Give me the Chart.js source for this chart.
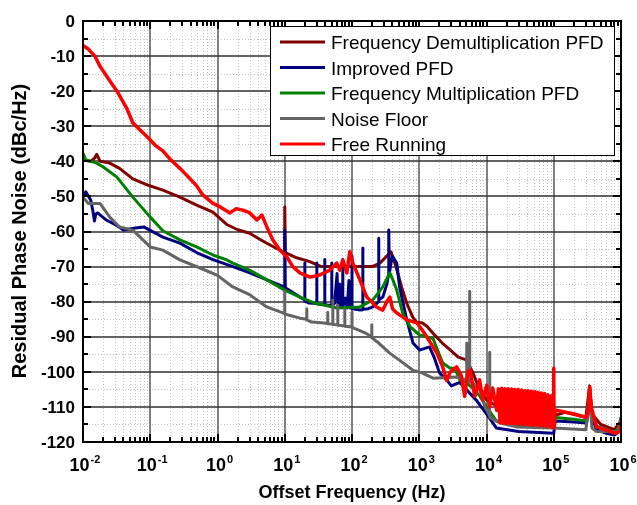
<!DOCTYPE html>
<html>
<head>
<meta charset="utf-8">
<script src="https://cdn.jsdelivr.net/npm/chart.js@4.4.0/dist/chart.umd.min.js"></script>
<style>
  html, body { margin: 0; padding: 0; background: #fff; }
  #wrap { width: 637px; height: 505px; }
</style>
</head>
<body>
<div id="wrap"><canvas id="pnChart"></canvas></div>
<script>
// series names (legend order)
const seriesNames = ["Frequency Demultiplication PFD", "Improved PFD", "Frequency Multiplication PFD", "Noise Floor", "Free Running"];
const seriesColors = ["#800000", "#00007f", "#008000", "#646464", "#ff0000"];

// axis ticks
const xTickExps = [-2, -1, 0, 1, 2, 3, 4, 5, 6];
const yTicks = [0, -10, -20, -30, -40, -50, -60, -70, -80, -90, -100, -110, -120];

// Frequency Demultiplication PFD
const demulFreq = [0.01, 0.013, 0.015, 0.016, 0.018, 0.025, 0.035, 0.055, 0.09, 0.154, 0.276, 0.49, 0.855, 1.37, 2, 3, 5, 7, 9.8, 10, 10.2, 15, 23, 35, 60, 100, 150, 200, 260, 330, 380, 450, 550, 650, 800, 920, 1100, 1300, 1600, 2200, 2900, 3800, 5000, 6200, 7500, 8500, 10000, 15000, 30000, 60000, 100000, 150000, 300000, 342000, 370000, 500000, 800000, 1000000];
const demulDb = [-39.6, -40, -39, -38, -40, -40.5, -42, -45, -46.7, -48.2, -50.2, -52.5, -54.5, -58, -59.5, -60.5, -63, -64.5, -66, -53, -66, -67.5, -68.5, -70, -70, -70, -70, -70, -69, -67, -65.8, -70, -76, -80.4, -84.4, -86, -86, -87, -89, -91.8, -93.8, -95.8, -96.6, -100, -104, -106, -108, -110, -111, -112, -112.5, -111.5, -113, -104, -112, -115, -116.5, -114];

// Improved PFD
const improvedFreq = [0.01, 0.011, 0.013, 0.014, 0.0148, 0.0155, 0.0165, 0.022, 0.03, 0.04, 0.06, 0.08, 0.154, 0.276, 0.49, 0.855, 1.69, 3.03, 5.42, 9.8, 10, 10.2, 16.8, 19.9, 19.9, 19.9, 23, 30, 30, 30, 35, 39.4, 39.4, 39.4, 45, 50.1, 50.1, 50.1, 55, 60, 62, 66, 68, 73, 73, 73, 80, 85, 90, 95, 100, 100, 100, 115, 131, 145, 145, 145, 175, 204, 250, 250, 250, 287, 330, 352, 352, 360, 380, 404, 463, 510, 652, 808, 1010, 1420, 1660, 2000, 2560, 3000, 4000, 5000, 7000, 10000, 14000, 30000, 60000, 100000, 105000, 200000, 308000, 342000, 370000, 434000, 610000, 800000, 1000000];
const improvedDb = [-50, -48.7, -51, -54, -57, -55, -54.7, -56.7, -58, -59.6, -59, -58.7, -61.6, -63.3, -66, -68, -70, -71.8, -73.8, -75.8, -59.6, -76, -78.7, -79.5, -69, -79.8, -80.4, -80.5, -69, -80.6, -80.8, -80.8, -68, -80.9, -81, -81, -69, -81.2, -80.5, -72, -81.5, -75, -81.5, -81.6, -68, -81.6, -79, -81.8, -74, -81.8, -81.8, -67, -82, -82.2, -82.4, -82.3, -64.7, -82.2, -82, -81.5, -80, -61.9, -79.5, -78.7, -75, -72, -59.6, -71.8, -69, -67.2, -69, -75.8, -85.2, -91.8, -93.8, -92.9, -95.8, -100.3, -102.3, -104, -103, -105, -108, -112, -116, -117, -117.3, -117.5, -114, -114.3, -114.6, -106, -113, -116.5, -117.5, -118, -116.5];

// Frequency Multiplication PFD
const multFreq = [0.01, 0.011, 0.016, 0.02, 0.032, 0.055, 0.1, 0.154, 0.276, 0.49, 0.855, 1.37, 1.69, 3, 5.42, 10, 16.8, 28, 60, 131, 166, 204, 287, 365, 400, 463, 566, 735, 1010, 1600, 2234, 2850, 3400, 4000, 5000, 6500, 8000, 10000, 14000, 30000, 60000, 100000, 105000, 200000, 308000, 342000, 370000, 434000, 610000, 800000, 1000000];
const multDb = [-37.7, -39.6, -40.5, -41.6, -44.5, -50.2, -55.9, -59.8, -62.4, -64.4, -66.7, -68.1, -69, -71, -73.8, -76.7, -78.7, -80.4, -81.8, -81.5, -80.4, -79.5, -75.8, -71.8, -73.5, -76.7, -83.2, -87.2, -89.5, -90.5, -97.5, -98.9, -99, -102.3, -103, -105, -107, -110, -114, -115.3, -115.5, -115.8, -113, -113.5, -114, -104.5, -112, -115.5, -116.5, -117.3, -115];

// Noise Floor
const floorFreq = [0.01, 0.012, 0.0179, 0.025, 0.035, 0.055, 0.1, 0.154, 0.276, 0.55, 1, 1.69, 3, 5.4, 9.4, 10, 10, 10, 16.8, 21.3, 21.3, 21.3, 25, 35, 43.6, 43.6, 43.6, 51.9, 51.9, 51.9, 61.5, 61.5, 61.5, 78.2, 78.2, 78.2, 100, 100, 100, 160, 197, 197, 197, 250, 360, 500, 800, 1100, 1600, 3607, 5080, 5080, 5080, 5625, 5625, 5625, 6240, 7925, 9500, 11160, 11160, 11160, 16000, 28000, 100000, 300000, 342000, 370000, 434000, 900000, 1000000];
const floorDb = [-50.2, -52, -52, -55.9, -58.7, -59.6, -64.4, -65.3, -68.1, -70.4, -72.5, -75.8, -78, -81.5, -83.2, -83.3, -77, -83.5, -84.7, -85, -82, -85.2, -85.8, -86, -86.2, -83, -86.3, -86.4, -79.5, -86.5, -86.6, -81, -86.7, -86.9, -82, -87, -87.2, -83, -87.3, -89, -90, -86.6, -90.3, -91.8, -94.6, -96.6, -99.5, -100.3, -101.8, -101.5, -102.3, -91.8, -102.4, -102.6, -77, -102.8, -103.2, -105.2, -110, -112.5, -94.4, -113, -114.6, -115.7, -116, -116.5, -108, -116, -117, -117, -113];

// Free Running
const freeFreq = [0.01, 0.012, 0.015, 0.018, 0.025, 0.032, 0.045, 0.055, 0.07, 0.09, 0.12, 0.154, 0.2, 0.276, 0.35, 0.49, 0.6, 0.855, 1.1, 1.53, 1.9, 2.38, 3.03, 3.85, 4.57, 5.42, 6.66, 8.45, 10.7, 13.2, 16.8, 23.6, 33.2, 46.8, 59.4, 65.9, 73, 83.7, 92.7, 103, 131, 166, 184, 230, 287, 330, 365, 400, 463, 652, 919, 1100, 1291, 1820, 2234, 2560, 2900, 3600, 4200, 4740, 5300, 5700, 6700, 7900, 8800, 10070, 11160, 12370, 14190,
  15000, 15900, 16800, 17800, 18800, 19900, 21000, 22300, 23600, 25000, 26400, 28000, 29600, 31300, 33100, 35000, 37000, 39200, 41500, 43900, 46400, 49100, 52000, 55000, 58200, 61500, 65100, 68900, 72900, 77100, 81600, 86300, 91300, 96600, 99000, 100000, 101000, 105000, 150000, 200000, 250000, 308000, 330000, 342000, 360000, 434000, 610000, 800000, 950000, 1000000];
const freeDb = [-7, -8, -10, -13, -17, -20, -25, -29, -31, -33, -35.5, -37, -39.5, -42, -44, -47, -49.5, -52, -53, -54.7, -53.5, -53.9, -54.7, -56.7, -55.3, -58.7, -62.4, -65.3, -67.2, -70, -71.8, -73, -72.4, -71, -69, -71, -68.1, -71.8, -65.8, -69, -73.8, -78.7, -79.5, -81.5, -82.4, -80, -78.7, -82, -83.2, -85.2, -86, -88, -90, -94.6, -98.6, -102.5, -100, -98.6, -101, -107, -100, -99.5, -107, -102.3, -108, -103.8, -110, -104.6, -111,
  -104.8, -114.5, -104.7, -114.6, -104.8, -114.7, -104.8, -114.7, -104.9, -114.8, -105, -114.8, -105, -114.9, -105.2, -115, -105.3, -115, -105.4, -115.1, -105.5, -115.2, -105.6, -115.2, -105.8, -115.3, -106, -115.4, -106.2, -115.5, -106.5, -115.6, -106.8, -115.7, -107.2, -99, -116, -110.9, -111.5, -112, -112.5, -112.9, -110, -104.3, -110, -115.7, -116.6, -117.5, -117, -114.6];

const seriesFreq = [demulFreq, improvedFreq, multFreq, floorFreq, freeFreq];
const seriesDb = [demulDb, improvedDb, multDb, floorDb, freeDb];
// drawing order: red on top
const seriesOrder = [4, 3, 2, 1, 0];

function toPoints(fs, vs) {
  return fs.map((f, i) => ({ x: f, y: vs[i] }));
}

const datasets = seriesNames.map((name, i) => ({
  label: name,
  data: toPoints(seriesFreq[i], seriesDb[i]),
  borderColor: seriesColors[i],
  borderWidth: i === 4 ? 3.5 : 3,
  borderJoinStyle: "round",
  borderCapStyle: "round",
  pointRadius: 0,
  tension: 0,
  fill: false,
  order: seriesOrder[i],
}));

const FONT = "'Liberation Sans', Arial, sans-serif";

// grid, frame, ticks, labels and legend
const frameLayer = {
  id: "frameLayer",
  beforeDatasetsDraw(chart) {
    const { ctx, chartArea: a, scales: { x, y } } = chart;
    ctx.save();
    // minor dotted grid
    ctx.strokeStyle = "#c4c4c4";
    ctx.lineWidth = 1;
    ctx.setLineDash([1, 2]);
    for (let e = -2; e < 6; e++) {
      for (let m = 2; m <= 9; m++) {
        const px = Math.round(x.getPixelForValue(m * Math.pow(10, e))) + 0.5;
        ctx.beginPath(); ctx.moveTo(px, a.top); ctx.lineTo(px, a.bottom); ctx.stroke();
      }
    }
    for (let v = -115; v < 0; v += 10) {
      const py = Math.round(y.getPixelForValue(v)) + 0.5;
      ctx.beginPath(); ctx.moveTo(a.left, py); ctx.lineTo(a.right, py); ctx.stroke();
    }
    ctx.setLineDash([]);
    // major grid
    ctx.strokeStyle = "#808080";
    ctx.lineWidth = 2;
    xTickExps.forEach(e => {
      const px = Math.round(x.getPixelForValue(Math.pow(10, e)));
      ctx.beginPath(); ctx.moveTo(px, a.top); ctx.lineTo(px, a.bottom); ctx.stroke();
    });
    ctx.strokeStyle = "#303030";
    ctx.lineWidth = 1.5;
    yTicks.forEach(v => {
      const py = Math.round(y.getPixelForValue(v));
      ctx.beginPath(); ctx.moveTo(a.left, py); ctx.lineTo(a.right, py); ctx.stroke();
    });
    ctx.restore();
  },
  afterDatasetsDraw(chart) {
    const { ctx, chartArea: a, scales: { x, y } } = chart;
    ctx.save();
    ctx.strokeStyle = "#000";
    ctx.lineWidth = 2;
    ctx.strokeRect(a.left, a.top, a.right - a.left, a.bottom - a.top);

    // tick marks
    ctx.lineWidth = 2;
    for (let e = -2; e <= 6; e++) {
      for (let m = 1; m <= 9; m++) {
        if (e === 6 && m > 1) break;
        const px = Math.round(x.getPixelForValue(m * Math.pow(10, e)));
        const len = m === 1 ? 8 : 5;
        ctx.beginPath();
        ctx.moveTo(px, a.bottom); ctx.lineTo(px, a.bottom - len);
        ctx.moveTo(px, a.top); ctx.lineTo(px, a.top + len);
        ctx.stroke();
      }
    }
    for (let v = 0; v >= -120; v -= 5) {
      const py = Math.round(y.getPixelForValue(v));
      const len = v % 10 === 0 ? 8 : 5;
      ctx.beginPath();
      ctx.moveTo(a.left, py); ctx.lineTo(a.left + len, py);
      ctx.moveTo(a.right, py); ctx.lineTo(a.right - len, py);
      ctx.stroke();
    }

    // y tick labels
    ctx.fillStyle = "#000";
    ctx.font = "bold 17px " + FONT;
    ctx.textAlign = "right";
    ctx.textBaseline = "middle";
    yTicks.forEach(v => {
      ctx.fillText(String(v), a.left - 8, y.getPixelForValue(v) + 1);
    });

    // x tick labels 10^n
    ctx.textBaseline = "alphabetic";
    ctx.textAlign = "left";
    xTickExps.forEach(e => {
      const px = x.getPixelForValue(Math.pow(10, e));
      ctx.font = "bold 18px " + FONT;
      const w1 = ctx.measureText("10").width;
      ctx.font = "bold 11px " + FONT;
      const sup = String(e);
      const w2 = ctx.measureText(sup).width;
      const left = px + 2 - (w1 + w2 + 1) / 2;
      ctx.font = "bold 18px " + FONT;
      ctx.fillText("10", left, 471);
      ctx.font = "bold 11px " + FONT;
      ctx.fillText(sup, left + w1 + 1, 463);
    });

    // axis titles
    ctx.font = "bold 18px " + FONT;
    ctx.textAlign = "center";
    ctx.fillText("Offset Frequency (Hz)", (a.left + a.right) / 2, 498);
    ctx.save();
    ctx.translate(26, 231);
    ctx.rotate(-Math.PI / 2);
    ctx.font = "bold 20px " + FONT;
    ctx.fillText("Residual Phase Noise (dBc/Hz)", 0, 0);
    ctx.restore();

    // legend box
    const bx = 270, by = 26, bw = 344, bh = 129;
    ctx.fillStyle = "#fff";
    ctx.fillRect(bx, by, bw, bh);
    ctx.strokeStyle = "#000";
    ctx.lineWidth = 1;
    ctx.strokeRect(bx + 0.5, by + 0.5, bw, bh);
    ctx.font = "19px " + FONT;
    ctx.textAlign = "left";
    chart.data.datasets.forEach((ds, i) => {
      const cy = 42 + i * 25.5;
      ctx.strokeStyle = ds.borderColor;
      ctx.lineWidth = 3;
      ctx.beginPath(); ctx.moveTo(280, cy); ctx.lineTo(325, cy); ctx.stroke();
      ctx.fillStyle = "#000";
      ctx.fillText(ds.label, 331, cy + 7);
    });
    ctx.restore();
  }
};

new Chart(document.getElementById("pnChart"), {
  type: "line",
  data: { datasets: datasets },
  options: {
    responsive: true,
    maintainAspectRatio: false,
    animation: false,
    devicePixelRatio: 1,
    layout: { padding: { left: 83, right: 16, top: 21, bottom: 63 } },
    scales: {
      x: { type: "logarithmic", min: 0.01, max: 1e6, display: false },
      y: { type: "linear", min: -120, max: 0, display: false },
    },
    plugins: { legend: { display: false }, tooltip: { enabled: false } },
  },
  plugins: [frameLayer],
});
</script>
</body>
</html>
